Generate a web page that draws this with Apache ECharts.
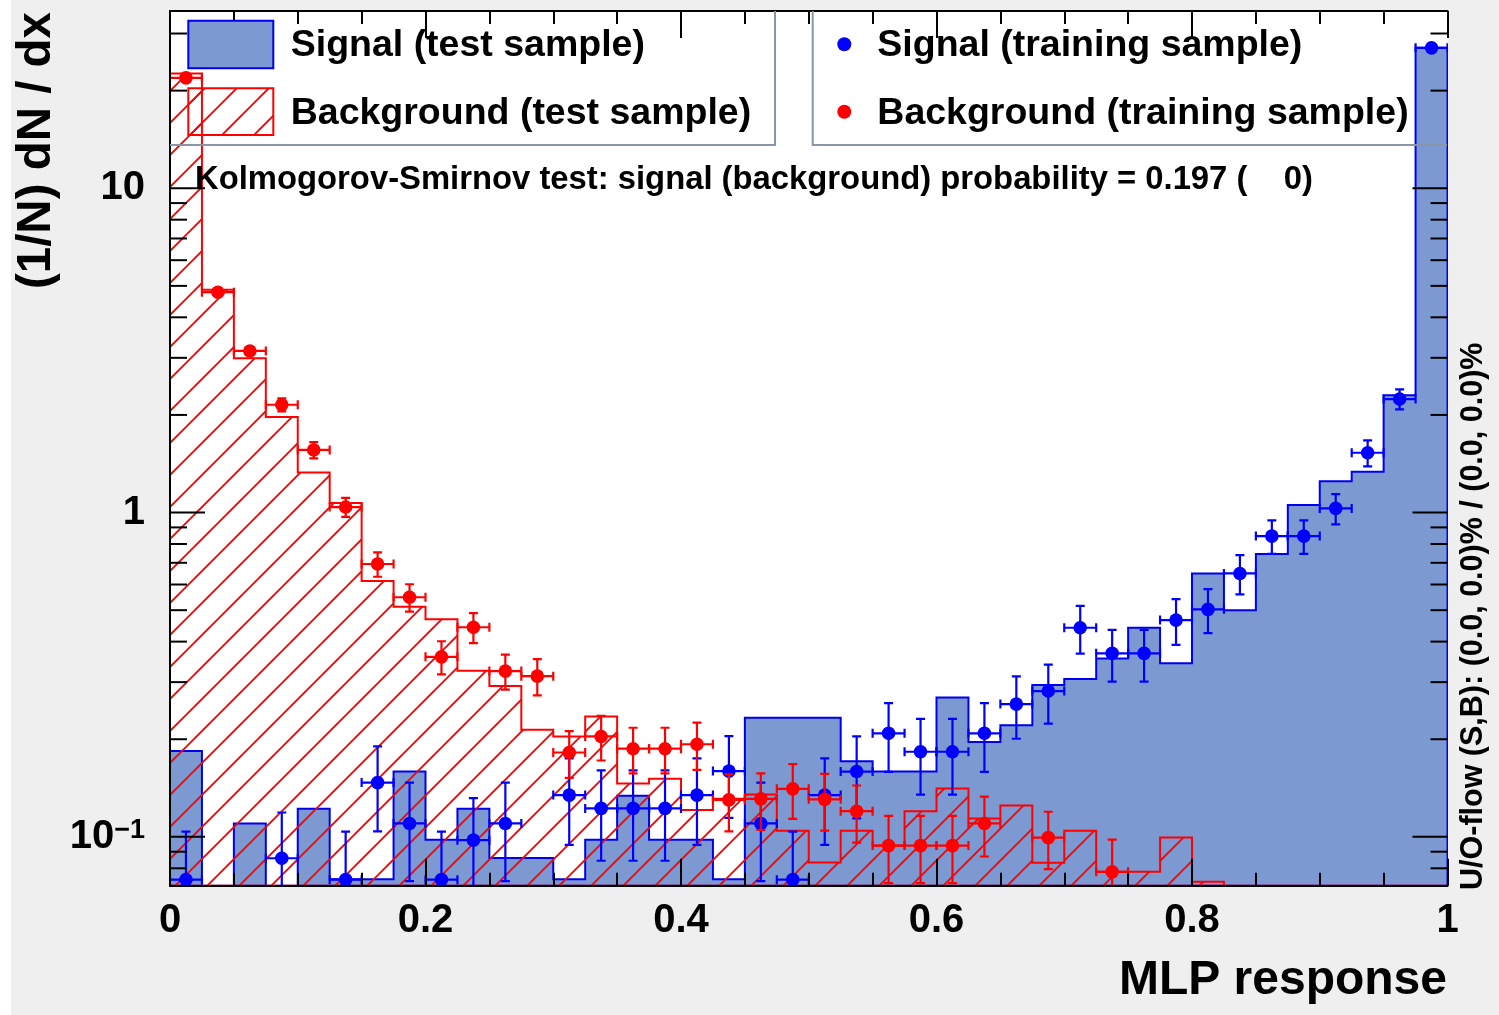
<!DOCTYPE html>
<html>
<head>
<meta charset="utf-8">
<script src="https://cdn.jsdelivr.net/npm/echarts@6/dist/echarts.min.js"></script>
<style>
  html, body { margin: 0; padding: 0; }
  #main { width: 1499px; height: 1015px; background: linear-gradient(to right, #ffffff 11px, #efefef 11px); }
</style>
</head>
<body>
<div id="main"></div>
<script>
// binning of the MLP response histograms
var nBins = 40;
var xLow = 0, xHigh = 1;
var yLow = 0.0707, yHigh = 35.2;

// signal, test sample (filled histogram)
var sigTest = [0.184, 0, 0.110, 0, 0.122, 0.074, 0.074, 0.159, 0.098, 0.122,
  0.086, 0.086, 0.074, 0.098, 0.134, 0.098, 0.098, 0.074, 0.233, 0.233,
  0.233, 0.171, 0.159, 0.159, 0.269, 0.196, 0.221, 0.294, 0.307, 0.355,
  0.441, 0.343, 0.649, 0.500, 0.745, 1.055, 1.25, 1.336, 2.30, 27.1];

// background, test sample (hatched histogram)
var bkgTest = [22.6, 4.86, 2.99, 1.97, 1.33, 1.07, 0.615, 0.512, 0.469, 0.325,
  0.292, 0.214, 0.204, 0.235, 0.146, 0.151, 0.121, 0.131, 0.135, 0.1045,
  0.0834, 0.1045, 0.094, 0.120, 0.141, 0.114, 0.125, 0.0832, 0.1045, 0.078,
  0.078, 0.0995, 0.0727, 0, 0, 0, 0, 0, 0, 0];

// signal, training sample (points) and their errors
var sigTrain = [0.0738, null, null, 0.0859, null, 0.0738, 0.147, 0.110, 0.0738, 0.0977,
  0.110, null, 0.1345, 0.1224, 0.1224, 0.1224, 0.1345, 0.1595, 0.110, 0.0738,
  0.1345, 0.159, 0.2086, 0.183, 0.183, 0.2086, 0.2567, 0.2816, 0.4414, 0.368,
  0.368, 0.466, 0.503, 0.649, 0.846, 0.846, 1.03, 1.529, 2.239, 27.1];
var sigTrainErr = [0.030, 0, 0, 0.033, 0, 0.030, 0.043, 0.037, 0.030, 0.034,
  0.037, 0, 0.040, 0.038, 0.038, 0.038, 0.040, 0.045, 0.037, 0.030,
  0.040, 0.045, 0.050, 0.048, 0.048, 0.050, 0.056, 0.058, 0.074, 0.067,
  0.067, 0.075, 0.078, 0.090, 0.100, 0.100, 0.110, 0.140, 0.160, 0.30];

// background, training sample (points) and their errors
var bkgTrain = [21.9, 4.78, 3.15, 2.15, 1.56, 1.04, 0.694, 0.548, 0.359, 0.443,
  0.3245, 0.313, 0.182, 0.204, 0.187, 0.187, 0.193, 0.130, 0.131, 0.1406,
  0.1305, 0.120, 0.094, 0.094, 0.094, 0.110, null, 0.0995, null, 0.078,
  null, null, null, null, null, null, null, null, null, null];
var bkgTrainErr = [0.40, 0.12, 0.09, 0.10, 0.09, 0.07, 0.06, 0.053, 0.042, 0.047,
  0.040, 0.040, 0.030, 0.032, 0.030, 0.030, 0.032, 0.026, 0.026, 0.027,
  0.026, 0.024, 0.022, 0.022, 0.022, 0.023, 0, 0.020, 0, 0.020,
  0, 0, 0, 0, 0, 0, 0, 0, 0, 0];

// log axis ticks and labels (base, exponent)
var yMajorTicks = [0.1, 1, 10];
var yMajorLabels = [['10', '\u22121'], ['1', ''], ['10', '']];
var yMinorTicks = [0.08, 0.09, 0.2, 0.3, 0.4, 0.5, 0.6, 0.7, 0.8, 0.9,
  2, 3, 4, 5, 6, 7, 8, 9, 20, 30];

var legendLeft = ['Signal (test sample)', 'Background (test sample)'];
var legendRight = ['Signal (training sample)', 'Background (training sample)'];
var ksText = 'Kolmogorov-Smirnov test: signal (background) probability = 0.197 (    0)';
var flowText = 'U/O-flow (S,B): (0.0, 0.0)% / (0.0, 0.0)%';

var FONT = '"Liberation Sans", Arial, Helvetica, sans-serif';
var sigFill = '#7d99d1', sigLine = '#0000ee', sigMark = '#0000ff', bkgCol = '#ff0000';
var legBorder = '#8a96a8';

function binEdge(i) { return xLow + i * (xHigh - xLow) / nBins; }
function binCenter(i) { return (binEdge(i) + binEdge(i + 1)) / 2; }

// red "/" hatch like ROOT fill style 3554
function makeHatch(color) {
  var s = 32;
  var c = document.createElement('canvas');
  c.width = s; c.height = s;
  var ctx = c.getContext('2d');
  ctx.strokeStyle = color;
  ctx.lineWidth = 1.9;
  ctx.beginPath();
  [5, 37].forEach(function (k) {
    ctx.moveTo(k + 4, -4);
    ctx.lineTo(-4, k + 4);
  });
  ctx.stroke();
  return c;
}
var hatchFill = { image: makeHatch(bkgCol), repeat: 'repeat' };

// histogram outline + fill as one contour
function histRenderer(values, fill, stroke) {
  return function (params, api) {
    var pts = [];
    pts.push(api.coord([binEdge(0), yLow]));
    for (var i = 0; i < values.length; i++) {
      var v = values[i] > yLow ? values[i] : yLow;
      pts.push(api.coord([binEdge(i), v]));
      pts.push(api.coord([binEdge(i + 1), v]));
    }
    pts.push(api.coord([binEdge(nBins), yLow]));
    return {
      type: 'polygon',
      shape: { points: pts },
      style: { fill: fill, stroke: stroke, lineWidth: 2, lineJoin: 'miter' }
    };
  };
}

function pointData(vals, errs) {
  var out = [];
  for (var i = 0; i < vals.length; i++) {
    if (vals[i] != null) out.push([binCenter(i), vals[i], errs[i]]);
  }
  return out;
}

// marker with x and y error bars (with end caps)
function pointRenderer(color) {
  return function (params, api) {
    var x = api.value(0), v = api.value(1), e = api.value(2);
    var half = (xHigh - xLow) / nBins / 2;
    var c = api.coord([x, v]);
    var l = api.coord([x - half, v]);
    var r = api.coord([x + half, v]);
    var hi = api.coord([x, v + e]);
    var clipped = v - e <= yLow;
    var lo = api.coord([x, clipped ? yLow : v - e]);
    var cap = 4.5;
    var st = { stroke: color, lineWidth: 2.2 };
    function seg(x1, y1, x2, y2) {
      return { type: 'line', shape: { x1: x1, y1: y1, x2: x2, y2: y2 }, style: st };
    }
    var kids = [
      seg(l[0], c[1], r[0], c[1]),
      seg(l[0], c[1] - cap, l[0], c[1] + cap),
      seg(r[0], c[1] - cap, r[0], c[1] + cap),
      seg(c[0], hi[1], c[0], lo[1]),
      seg(c[0] - cap, hi[1], c[0] + cap, hi[1])
    ];
    if (!clipped) kids.push(seg(c[0] - cap, lo[1], c[0] + cap, lo[1]));
    kids.push({ type: 'circle', shape: { cx: c[0], cy: c[1], r: 6.8 }, style: { fill: color } });
    return { type: 'group', children: kids };
  };
}

// y ticks on both frame sides
function tickRenderer(len) {
  return function (params, api) {
    var a = api.coord([xLow, api.value(1)]);
    var b = api.coord([xHigh, api.value(1)]);
    var st = { stroke: '#000', lineWidth: 2 };
    return {
      type: 'group',
      children: [
        { type: 'line', shape: { x1: a[0], y1: a[1], x2: a[0] + len, y2: a[1] }, style: st },
        { type: 'line', shape: { x1: b[0], y1: b[1], x2: b[0] - len, y2: b[1] }, style: st }
      ]
    };
  };
}

function yLabel(v) {
  for (var i = 0; i < yMajorTicks.length; i++) {
    if (Math.abs(Math.log10(v) - Math.log10(yMajorTicks[i])) < 1e-6) {
      var lab = yMajorLabels[i];
      return lab[1] ? '{m|' + lab[0] + '}{s|' + lab[1] + '}' : '{m|' + lab[0] + '}';
    }
  }
  return '';
}

function legText(x, y, text) {
  return {
    type: 'text', z: 100, x: x, y: y,
    style: { text: text, fontSize: 37.5, fontWeight: 'bold', fontFamily: FONT, fill: '#000', verticalAlign: 'middle' }
  };
}

var myChart = echarts.init(document.getElementById('main'));

var xAxisBase = {
  type: 'value',
  min: xLow,
  max: xHigh,
  interval: 0.2,
  z: 10,
  axisLine: { show: true, lineStyle: { color: '#000', width: 2 } },
  axisTick: { show: true, inside: true, length: 27, lineStyle: { color: '#000', width: 2 } },
  minorTick: { show: true, splitNumber: 4, length: 13, lineStyle: { color: '#000', width: 2 } },
  splitLine: { show: false },
  minorSplitLine: { show: false }
};

var option = {
  animation: false,
  backgroundColor: 'transparent',
  grid: {
    left: 170, right: 51.5, top: 11, bottom: 129.3,
    show: true, backgroundColor: '#ffffff', borderWidth: 0
  },
  xAxis: [
    Object.assign({}, xAxisBase, {
      position: 'bottom',
      axisLabel: { fontSize: 40, fontWeight: 'bold', fontFamily: FONT, color: '#000', margin: 15 }
    }),
    Object.assign({}, xAxisBase, { position: 'top', axisLabel: { show: false } })
  ],
  yAxis: [
    {
      type: 'log', logBase: 10, min: yLow, max: yHigh, position: 'left', z: 10,
      axisLine: { show: true, lineStyle: { color: '#000', width: 2 } },
      axisTick: { show: false },
      splitLine: { show: false },
      axisLabel: {
        margin: 25, color: '#000', formatter: yLabel,
        rich: {
          m: { fontSize: 40, fontWeight: 'bold', fontFamily: FONT, color: '#000' },
          s: { fontSize: 27, fontWeight: 'bold', fontFamily: FONT, color: '#000', verticalAlign: 'top' }
        }
      }
    },
    {
      type: 'log', logBase: 10, min: yLow, max: yHigh, position: 'right', z: 10,
      axisLine: { show: true, lineStyle: { color: '#000', width: 2 } },
      axisTick: { show: false },
      splitLine: { show: false },
      axisLabel: { show: false }
    }
  ],
  series: [
    {
      name: 'Signal (test sample)', type: 'custom', silent: true, clip: true, z: 2,
      data: [[0.5, 1]],
      renderItem: histRenderer(sigTest, sigFill, sigLine)
    },
    {
      name: 'Background (test sample)', type: 'custom', silent: true, clip: true, z: 3,
      data: [[0.5, 1]],
      renderItem: histRenderer(bkgTest, hatchFill, bkgCol)
    },
    {
      name: 'Signal (training sample)', type: 'custom', silent: true, clip: true, z: 4,
      data: pointData(sigTrain, sigTrainErr),
      renderItem: pointRenderer(sigMark)
    },
    {
      name: 'Background (training sample)', type: 'custom', silent: true, clip: true, z: 5,
      data: pointData(bkgTrain, bkgTrainErr),
      renderItem: pointRenderer(bkgCol)
    },
    {
      type: 'custom', silent: true, z: 11,
      data: yMinorTicks.map(function (v) { return [xLow, v]; }),
      renderItem: tickRenderer(17)
    },
    {
      type: 'custom', silent: true, z: 11,
      data: yMajorTicks.map(function (v) { return [xLow, v]; }),
      renderItem: tickRenderer(35)
    }
  ],
  graphic: [
    // legend frames (sides on the plot frame are left black)
    { type: 'polyline', z: 100, shape: { points: [[170, 145], [775, 145], [775, 11]] },
      style: { fill: null, stroke: legBorder, lineWidth: 2 } },
    { type: 'polyline', z: 100, shape: { points: [[812.7, 11], [812.7, 145], [1447, 145]] },
      style: { fill: null, stroke: legBorder, lineWidth: 2 } },
    // legend symbols
    { type: 'rect', z: 100, shape: { x: 188.3, y: 20.7, width: 85, height: 47.6 },
      style: { fill: sigFill, stroke: sigLine, lineWidth: 2 } },
    { type: 'rect', z: 100, shape: { x: 188.3, y: 88.3, width: 85, height: 46.7 },
      style: { fill: hatchFill, stroke: bkgCol, lineWidth: 2 } },
    { type: 'circle', z: 100, shape: { cx: 844.3, cy: 44.3, r: 7 }, style: { fill: sigMark } },
    { type: 'circle', z: 100, shape: { cx: 844.3, cy: 111.7, r: 7 }, style: { fill: bkgCol } },
    // legend texts
    legText(290.7, 45.5, legendLeft[0]),
    legText(290.7, 113.5, legendLeft[1]),
    legText(877.3, 45.5, legendRight[0]),
    legText(877.3, 113.5, legendRight[1]),
    // KS test result
    { type: 'text', z: 100, x: 195, y: 179.5,
      style: { text: ksText, fontSize: 32.8, fontWeight: 'bold', fontFamily: FONT, fill: '#000', verticalAlign: 'middle' } },
    // axis titles
    { type: 'text', z: 100, x: 1447, y: 981,
      style: { text: 'MLP response', fontSize: 48, fontWeight: 'bold', fontFamily: FONT, fill: '#000', align: 'right', verticalAlign: 'middle' } },
    { type: 'text', z: 100, x: 37, y: 12, rotation: Math.PI / 2,
      style: { text: '(1/N) dN / dx', fontSize: 47.5, fontWeight: 'bold', fontFamily: FONT, fill: '#000', align: 'right', verticalAlign: 'middle' } },
    // under/overflow note
    { type: 'text', z: 100, x: 1474, y: 890, rotation: Math.PI / 2,
      style: { text: flowText, fontSize: 30.5, fontWeight: 'bold', fontFamily: FONT, fill: '#000', align: 'left', verticalAlign: 'middle' } }
  ]
};

myChart.setOption(option);
</script>
</body>
</html>
